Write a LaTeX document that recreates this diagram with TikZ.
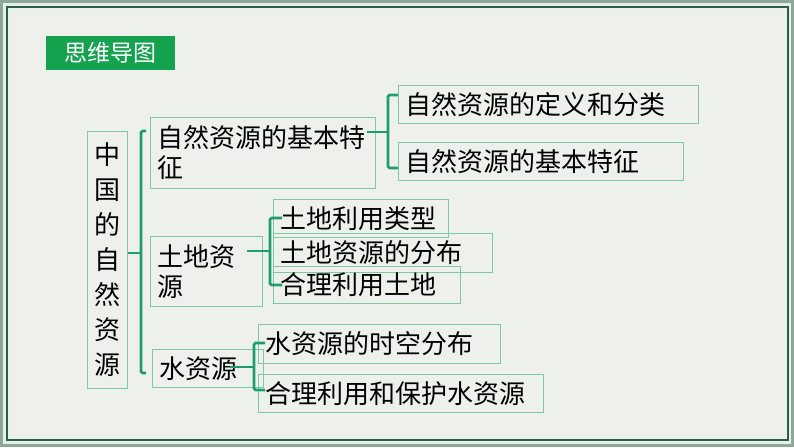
\documentclass[tikz,border=0pt]{standalone}
\usepackage{fontspec}
\setmainfont{Noto Sans CJK SC}
\definecolor{bandc}{HTML}{8EA796}
\definecolor{mintc}{HTML}{E4F1EA}
\definecolor{darkc}{HTML}{2F5E48}
\definecolor{bgc}{HTML}{EDF0EB}
\definecolor{titlec}{HTML}{14A24F}
\definecolor{boxc}{HTML}{7CC9A2}
\definecolor{connc}{HTML}{1F9E6C}
\tikzset{
  box/.style={draw=boxc, line width=0.8pt, anchor=north west, inner xsep=7pt, inner ysep=0pt,
    align=left, font=\fontsize{26}{30}\selectfont, text=black},
  conn/.style={draw=connc, line width=2.6pt, rounded corners=1.5pt},
}
\begin{document}
\begin{tikzpicture}[x=1pt,y=-1pt]
\useasboundingbox (0,0) rectangle (794,447);
% frame
\fill[bandc] (0,0) rectangle (794,447);
\fill[mintc] (3,3) rectangle (791,444);
\draw[darkc, line width=2pt, fill=bgc] (6.5,6.5) rectangle (787.5,439.5);
\draw[mintc, line width=0.8pt] (8.6,8.6) rectangle (785.4,437.4);
% title
\node[fill=titlec, minimum width=129, minimum height=34, inner sep=0pt, anchor=north west,
  text=white, font=\fontsize{23}{23}\selectfont] (title) at (46,36) {思维导图};
% root
\node[draw=boxc, line width=0.8pt, anchor=north west, minimum width=40, minimum height=257,
  inner sep=0pt, align=center, font=\fontsize{26}{35}\selectfont] (root) at (87,131)
  {中\\国\\的\\自\\然\\资\\源};
% children
\node[box, text width=211, minimum height=71] (c1) at (150,117) {自然资源的基本特\\征};
\node[box, text width=98, minimum height=70] (c2) at (150,236) {土地资\\源};
\node[box, text width=97, minimum height=38] (c3) at (152,349) {水资源};
% grandchildren
\node[box, text width=286, minimum height=38] (g11) at (398,85) {自然资源的定义和分类};
\node[box, text width=271, minimum height=38] (g12) at (398,142) {自然资源的基本特征};
\node[box, text width=161, minimum height=38] (g21) at (273,199) {土地利用类型};
\node[box, text width=205, minimum height=39] (g22) at (273,233) {土地资源的分布};
\node[box, text width=173, minimum height=37] (g23) at (273,266) {合理利用土地};
\node[box, text width=228, minimum height=39] (g31) at (258,324) {水资源的时空分布};
\node[box, text width=271, minimum height=38] (g32) at (258,374) {合理利用和保护水资源};
% bracket coordinates
\coordinate (r0) at (141,253);
\coordinate (rt) at (146,131);
\coordinate (rb) at (146,373);
\coordinate (s1) at (367,132);
\coordinate (b1) at (388,132);
\coordinate (s2) at (247,251);
\coordinate (b2) at (270,251);
\coordinate (t2a) at (282,218);
\coordinate (t2b) at (282,285);
\coordinate (s3) at (230,367);
\coordinate (b3) at (254,367);
\coordinate (t3a) at (265,343);
\coordinate (t3b) at (265,390);
% root connector
\draw[conn] (root.east |- r0) -- (r0);
\draw[conn] (rt) -- (rt -| r0) -- (rb -| r0) -- (rb);
% c1 connector
\draw[conn] (s1) -- (b1);
\draw[conn] (g11.west |- 0,95) -- (b1 |- 0,95) -- (b1 |- 0,168) -- (g12.west |- 0,168);
% c2 connector
\draw[conn] (s2) -- (b2);
\draw[conn] (t2a) -- (t2a -| b2) -- (t2b -| b2) -- (t2b);
% c3 connector
\draw[conn] (s3) -- (b3);
\draw[conn] (t3a) -- (t3a -| b3) -- (t3b -| b3) -- (t3b);
\end{tikzpicture}
\end{document}
